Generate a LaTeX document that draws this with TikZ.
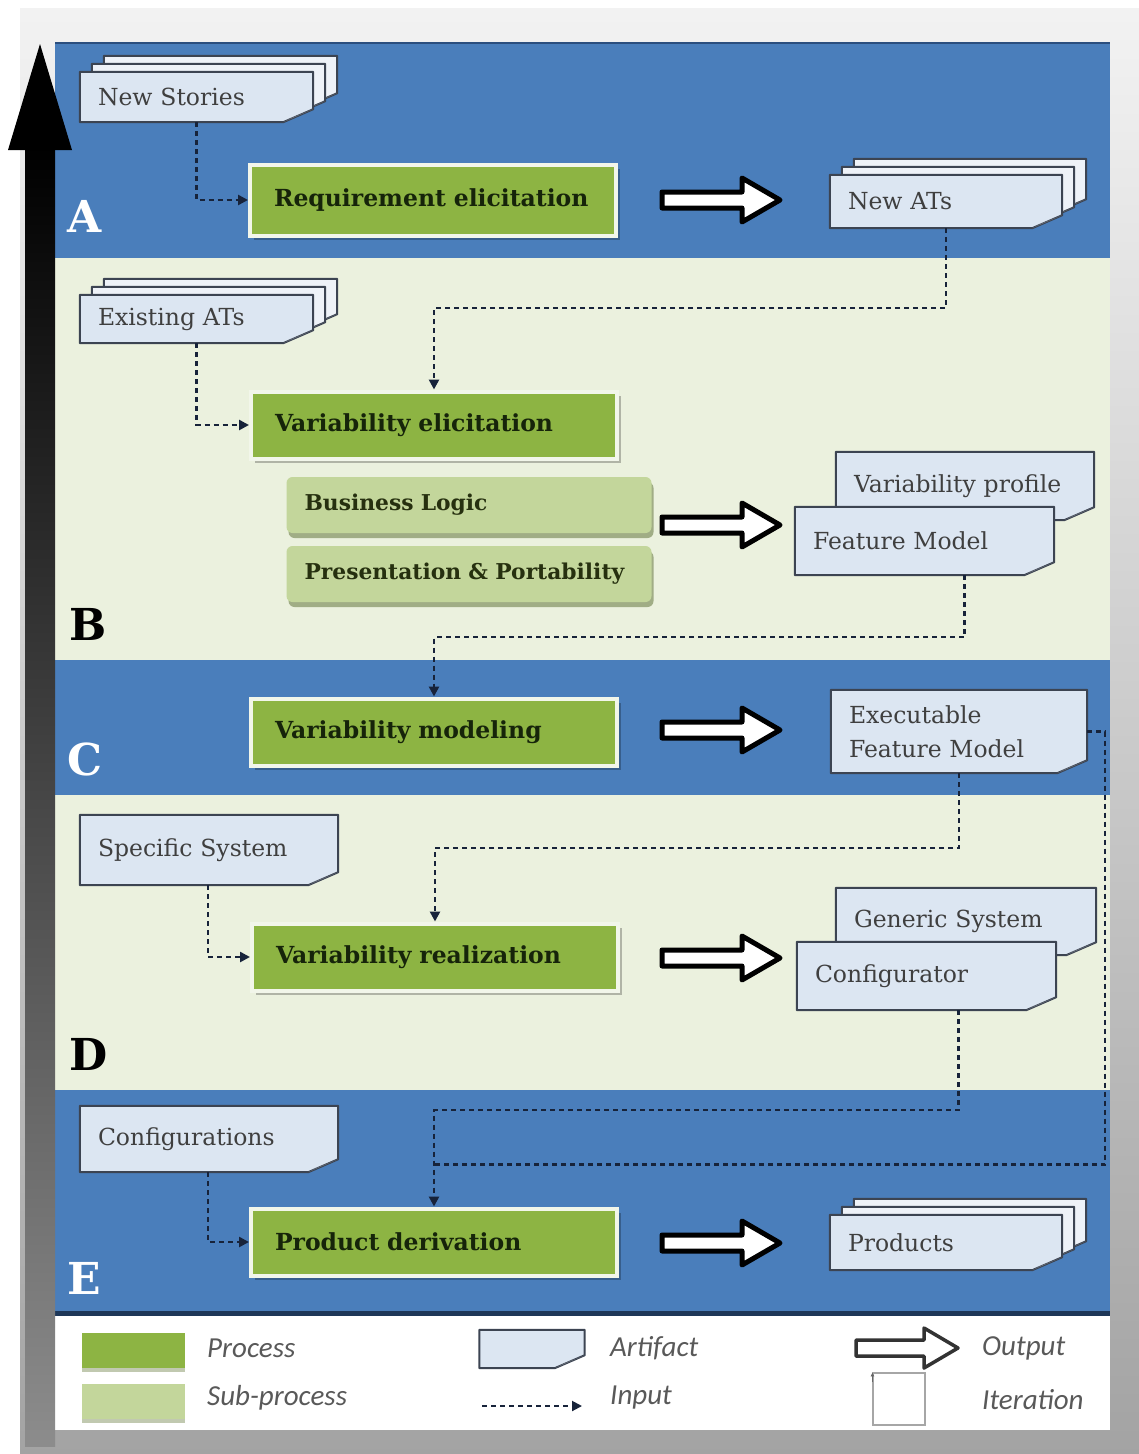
\documentclass[tikz,border=0pt]{standalone}
\usepackage{fontspec}
\setmainfont{DejaVu Serif}
\newfontfamily\legendfont{Carlito}
\usetikzlibrary{calc,shadows,arrows.meta}

\definecolor{band}{HTML}{4A7EBB}
\definecolor{bandedge}{HTML}{2B4E7E}
\definecolor{cream}{HTML}{EBF1DE}
\definecolor{procgreen}{HTML}{8DB443}
\definecolor{procborder}{HTML}{F2F6EA}
\definecolor{subgreen}{HTML}{C3D69B}
\definecolor{subshadow}{HTML}{98A67C}
\definecolor{docfill}{HTML}{DCE6F2}
\definecolor{stackfill}{HTML}{EEF2F8}
\definecolor{docline}{HTML}{3C4452}
\definecolor{dashc}{HTML}{17233A}
\definecolor{proctext}{HTML}{16240A}
\definecolor{subtext}{HTML}{26300F}
\definecolor{doctext}{HTML}{3F3F3F}
\definecolor{legtext}{HTML}{595959}

\pgfdeclarelayer{back}
\pgfdeclarelayer{mid}
\pgfsetlayers{back,mid,main}

% document shape with a folded bottom-right corner, offset by (#3,#4) pixels
\newcommand\docshape[4][docfill]{%
  \filldraw[fill=#1, draw=docline, line width=2pt, line join=round]
    let \p1=(#2.north west), \p2=(#2.south east) in
    ({\x1+(#3pt)},{\y1-(#4pt)}) -- ({\x2+(#3pt)},{\y1-(#4pt)})
    -- ({\x2+(#3pt)},{\y2-(#4pt)+13pt}) -- ({\x2+(#3pt)-30pt},{\y2-(#4pt)})
    -- ({\x1+(#3pt)},{\y2-(#4pt)}) -- cycle;
  \fill[docline!75]
    let \p2=(#2.south east) in
    ({\x2+(#3pt)-30pt},{\y2-(#4pt)}) -- ({\x2+(#3pt)},{\y2-(#4pt)+13pt})
    -- ({\x2+(#3pt)-20pt},{\y2-(#4pt)+5pt}) -- cycle;
}

% hollow output arrow starting at #1
\newcommand\fatarrow[1]{%
  \draw[fatarr] (#1) ++(0,-8) -- ++(80,0) -- ++(0,-14) -- ++(38,22)
    -- ++(-38,22) -- ++(0,-14) -- ++(-80,0) -- cycle;
}

\tikzset{
  x=1pt, y=-1pt,
  process/.style={fill=procgreen, draw=procborder, line width=4pt,
    minimum width=366pt, minimum height=67pt, text width=318pt, inner xsep=0pt,
    align=left, font=\fontsize{23.5}{27}\selectfont\bfseries, text=proctext,
    drop shadow={shadow xshift=4pt, shadow yshift=-4pt, fill=black, opacity=0.25}},
  subproc/.style={fill=subgreen, draw=none, rounded corners=6pt,
    minimum width=365pt, minimum height=56pt, text width=329pt, inner xsep=0pt,
    align=left, font=\fontsize{21.8}{24}\selectfont\bfseries, text=subtext,
    drop shadow={shadow xshift=2pt, shadow yshift=-5pt, fill=subshadow, opacity=0.9}},
  artifact/.style n args={3}{minimum width=#1pt, minimum height=#2pt,
    text width=#3pt, inner xsep=0pt, inner ysep=2pt, align=left,
    font=\fontsize{23.5}{34}\selectfont, text=doctext},
  letter/.style={font=\fontsize{44}{44}\selectfont\bfseries, anchor=base west, inner sep=0pt},
  input/.style={draw=dashc, line width=2.5pt, dash pattern=on 5pt off 4pt,
    -{Triangle[length=10pt,width=10pt]}},
  iterline/.style={draw=dashc, line width=2.5pt, dash pattern=on 5pt off 4pt},
  fatarr/.style={draw=black, fill=white, line width=5pt, line join=round},
  legtext/.style={font=\legendfont\itshape\fontsize{29}{32}\selectfont, text=legtext, anchor=west, inner sep=0pt},
}

\begin{document}
\begin{tikzpicture}
\useasboundingbox (0,0) rectangle (1139,1454);

% frame, bands and the time arrow
\begin{pgfonlayer}{back}
  \fill[white] (0,0) rectangle (1139,1454);
  \fill[top color=white!95!black, bottom color=white!64!black] (20,8) rectangle (1139,1454);
  \fill[band]  (55,42)   rectangle (1110,258);
  \fill[cream] (55,258)  rectangle (1110,660);
  \fill[band]  (55,660)  rectangle (1110,795);
  \fill[cream] (55,795)  rectangle (1110,1090);
  \fill[band]  (55,1090) rectangle (1110,1313);
  \fill[white] (55,1316) rectangle (1110,1430);
  \draw[bandedge, line width=2pt] (55,43) -- (1110,43);
  \draw[bandedge!70!black, line width=5pt] (55,1313) -- (1110,1313);
  \fill[top color=black, middle color=black!58, bottom color=black!45] (25,146) rectangle (55,1446);
  \fill[black] (8,150) -- (40,44) -- (72,150) -- cycle;
\end{pgfonlayer}

% phase letters
\node[letter, text=white] (labA) at (67,232)  {A};
\node[letter, text=black] (labB) at (69,640)  {B};
\node[letter, text=white] (labC) at (67,775)  {C};
\node[letter, text=black] (labD) at (69,1070) {D};
\node[letter, text=white] (labE) at (67,1294) {E};

% processes
\node[process, minimum height=71pt] (req) at (433,200)  {Requirement elicitation};
\node[process] (varel)   at (434,425)  {Variability elicitation};
\node[process] (varmod)  at (434,732)  {Variability modeling};
\node[process] (varreal) at (435,957)  {Variability realization};
\node[process] (prod)    at (434,1242) {Product derivation};

% sub-processes
\node[subproc] (bl) at (469,505) {Business Logic};
\node[subproc] (pp) at (469,574) {Presentation \& Portability};

% artifacts
\node[artifact={233}{50}{197}] (newstories) at (196.5,97)   {New Stories};
\node[artifact={232}{53}{196}] (newats)     at (946,201.5)  {New ATs};
\node[artifact={233}{48}{197}] (existats)   at (196.5,319)  {Existing ATs};
\node[artifact={258}{68}{222}] (varprof)    at (965,486)    {Variability profile\\[16pt]};
\node[artifact={259}{68}{223}] (featmodel)  at (924.5,541)  {Feature Model\\[16pt]};
\node[artifact={256}{83}{220}] (execfm)     at (959,731.5)  {Executable\\Feature Model};
\node[artifact={258}{70}{222}] (specsys)    at (209,850)    {Specific System\\[16pt]};
\node[artifact={260}{67}{224}] (gensys)     at (966,921.5)  {Generic System\\[16pt]};
\node[artifact={259}{68}{223}] (config)     at (926.5,976)  {Configurator\\[16pt]};
\node[artifact={258}{66}{222}] (configs)    at (209,1139)   {Configurations\\[16pt]};
\node[artifact={232}{55}{196}] (products)   at (946,1242.5) {Products};

\begin{pgfonlayer}{mid}
  \docshape[stackfill]{newstories}{24}{-16}
  \docshape[stackfill]{newstories}{12}{-8}
  \docshape{newstories}{0}{0}
  \docshape[stackfill]{newats}{24}{-16}
  \docshape[stackfill]{newats}{12}{-8}
  \docshape{newats}{0}{0}
  \docshape[stackfill]{existats}{24}{-16}
  \docshape[stackfill]{existats}{12}{-8}
  \docshape{existats}{0}{0}
  \docshape{varprof}{0}{0}
  \docshape{featmodel}{0}{0}
  \docshape{execfm}{0}{0}
  \docshape{specsys}{0}{0}
  \docshape{gensys}{0}{0}
  \docshape{config}{0}{0}
  \docshape{configs}{0}{0}
  \docshape[stackfill]{products}{24}{-16}
  \docshape[stackfill]{products}{12}{-8}
  \docshape{products}{0}{0}
\end{pgfonlayer}

% outputs
\fatarrow{$(req.east)+(44,0)$}
\fatarrow{$(varel.east)+(43,100)$}
\fatarrow{$(varmod.east)+(43,-2)$}
\fatarrow{$(varreal.east)+(42,1)$}
\fatarrow{$(prod.east)+(43,1)$}

% inputs
\draw[input] (newstories.south) |- (req.west);
\draw[input] (newats.south) -- ++(0,80) -| (varel.north);
\draw[input] (existats.south) |- (varel.west);
\draw[input] ($(featmodel.south)+(40,0)$) -- ++(0,62) -| (varmod.north);
\draw[input] (execfm.south) -- ++(0,75) -| (varreal.north);
\draw[input] ($(specsys.south)+(-1,0)$) |- (varreal.west);
\draw[input] ($(config.south)+(32,0)$) -- ++(0,100) -| (prod.north);
\draw[input] ($(configs.south)+(-1,0)$) |- (prod.west);

% iteration
\draw[iterline] (execfm.east) -- ++(18,0) |- ($(prod.north)+(0,-42)$);

% legend
\node[fill=procgreen, minimum width=103pt, minimum height=35pt, inner sep=0pt,
      drop shadow={shadow xshift=0pt, shadow yshift=-4pt, fill=subshadow, opacity=0.6}] (lgproc) at (133.5,1350) {};
\node[fill=subgreen, minimum width=103pt, minimum height=35pt, inner sep=0pt,
      drop shadow={shadow xshift=0pt, shadow yshift=-4pt, fill=subshadow, opacity=0.6}] (lgsub) at (133.5,1401) {};
\node[legtext] (tproc) at (207,1348) {Process};
\node[legtext] (tsub)  at (207,1398) {Sub-process};

\node[artifact={105}{38}{80}] (lgdoc) at (532,1349) {};
\begin{pgfonlayer}{mid}
  \docshape{lgdoc}{0}{0}
\end{pgfonlayer}
\node[legtext] (tdoc) at (610,1348) {Artifact};
\coordinate (lgin1) at (482,1406);
\coordinate (lgin2) at (582,1406);
\draw[input, line width=2pt] (lgin1) -- (lgin2);
\node[legtext] (tin) at (610,1398) {Input};

\coordinate (lgout) at (856,1348);
\draw[draw=black!80, fill=white, line width=3.5pt, line join=round]
  (lgout) ++(0,-8) -- ++(68,0) -- ++(0,-12) -- ++(34,20) -- ++(-34,20) -- ++(0,-12) -- ++(-68,0) -- cycle;
\node[legtext] (tout) at (982,1348) {Output};
\node[draw=black!35, line width=1.2pt, minimum width=52pt, minimum height=52pt, inner sep=0pt] (lgit) at (899,1399) {};
\draw[black!60, line width=1pt, -{Latex[length=4pt,width=4pt]}] ($(lgit.north west)+(0,10)$) -- (lgit.north west);
\node[legtext] (tit) at (982,1400) {Iteration};

\end{tikzpicture}
\end{document}
